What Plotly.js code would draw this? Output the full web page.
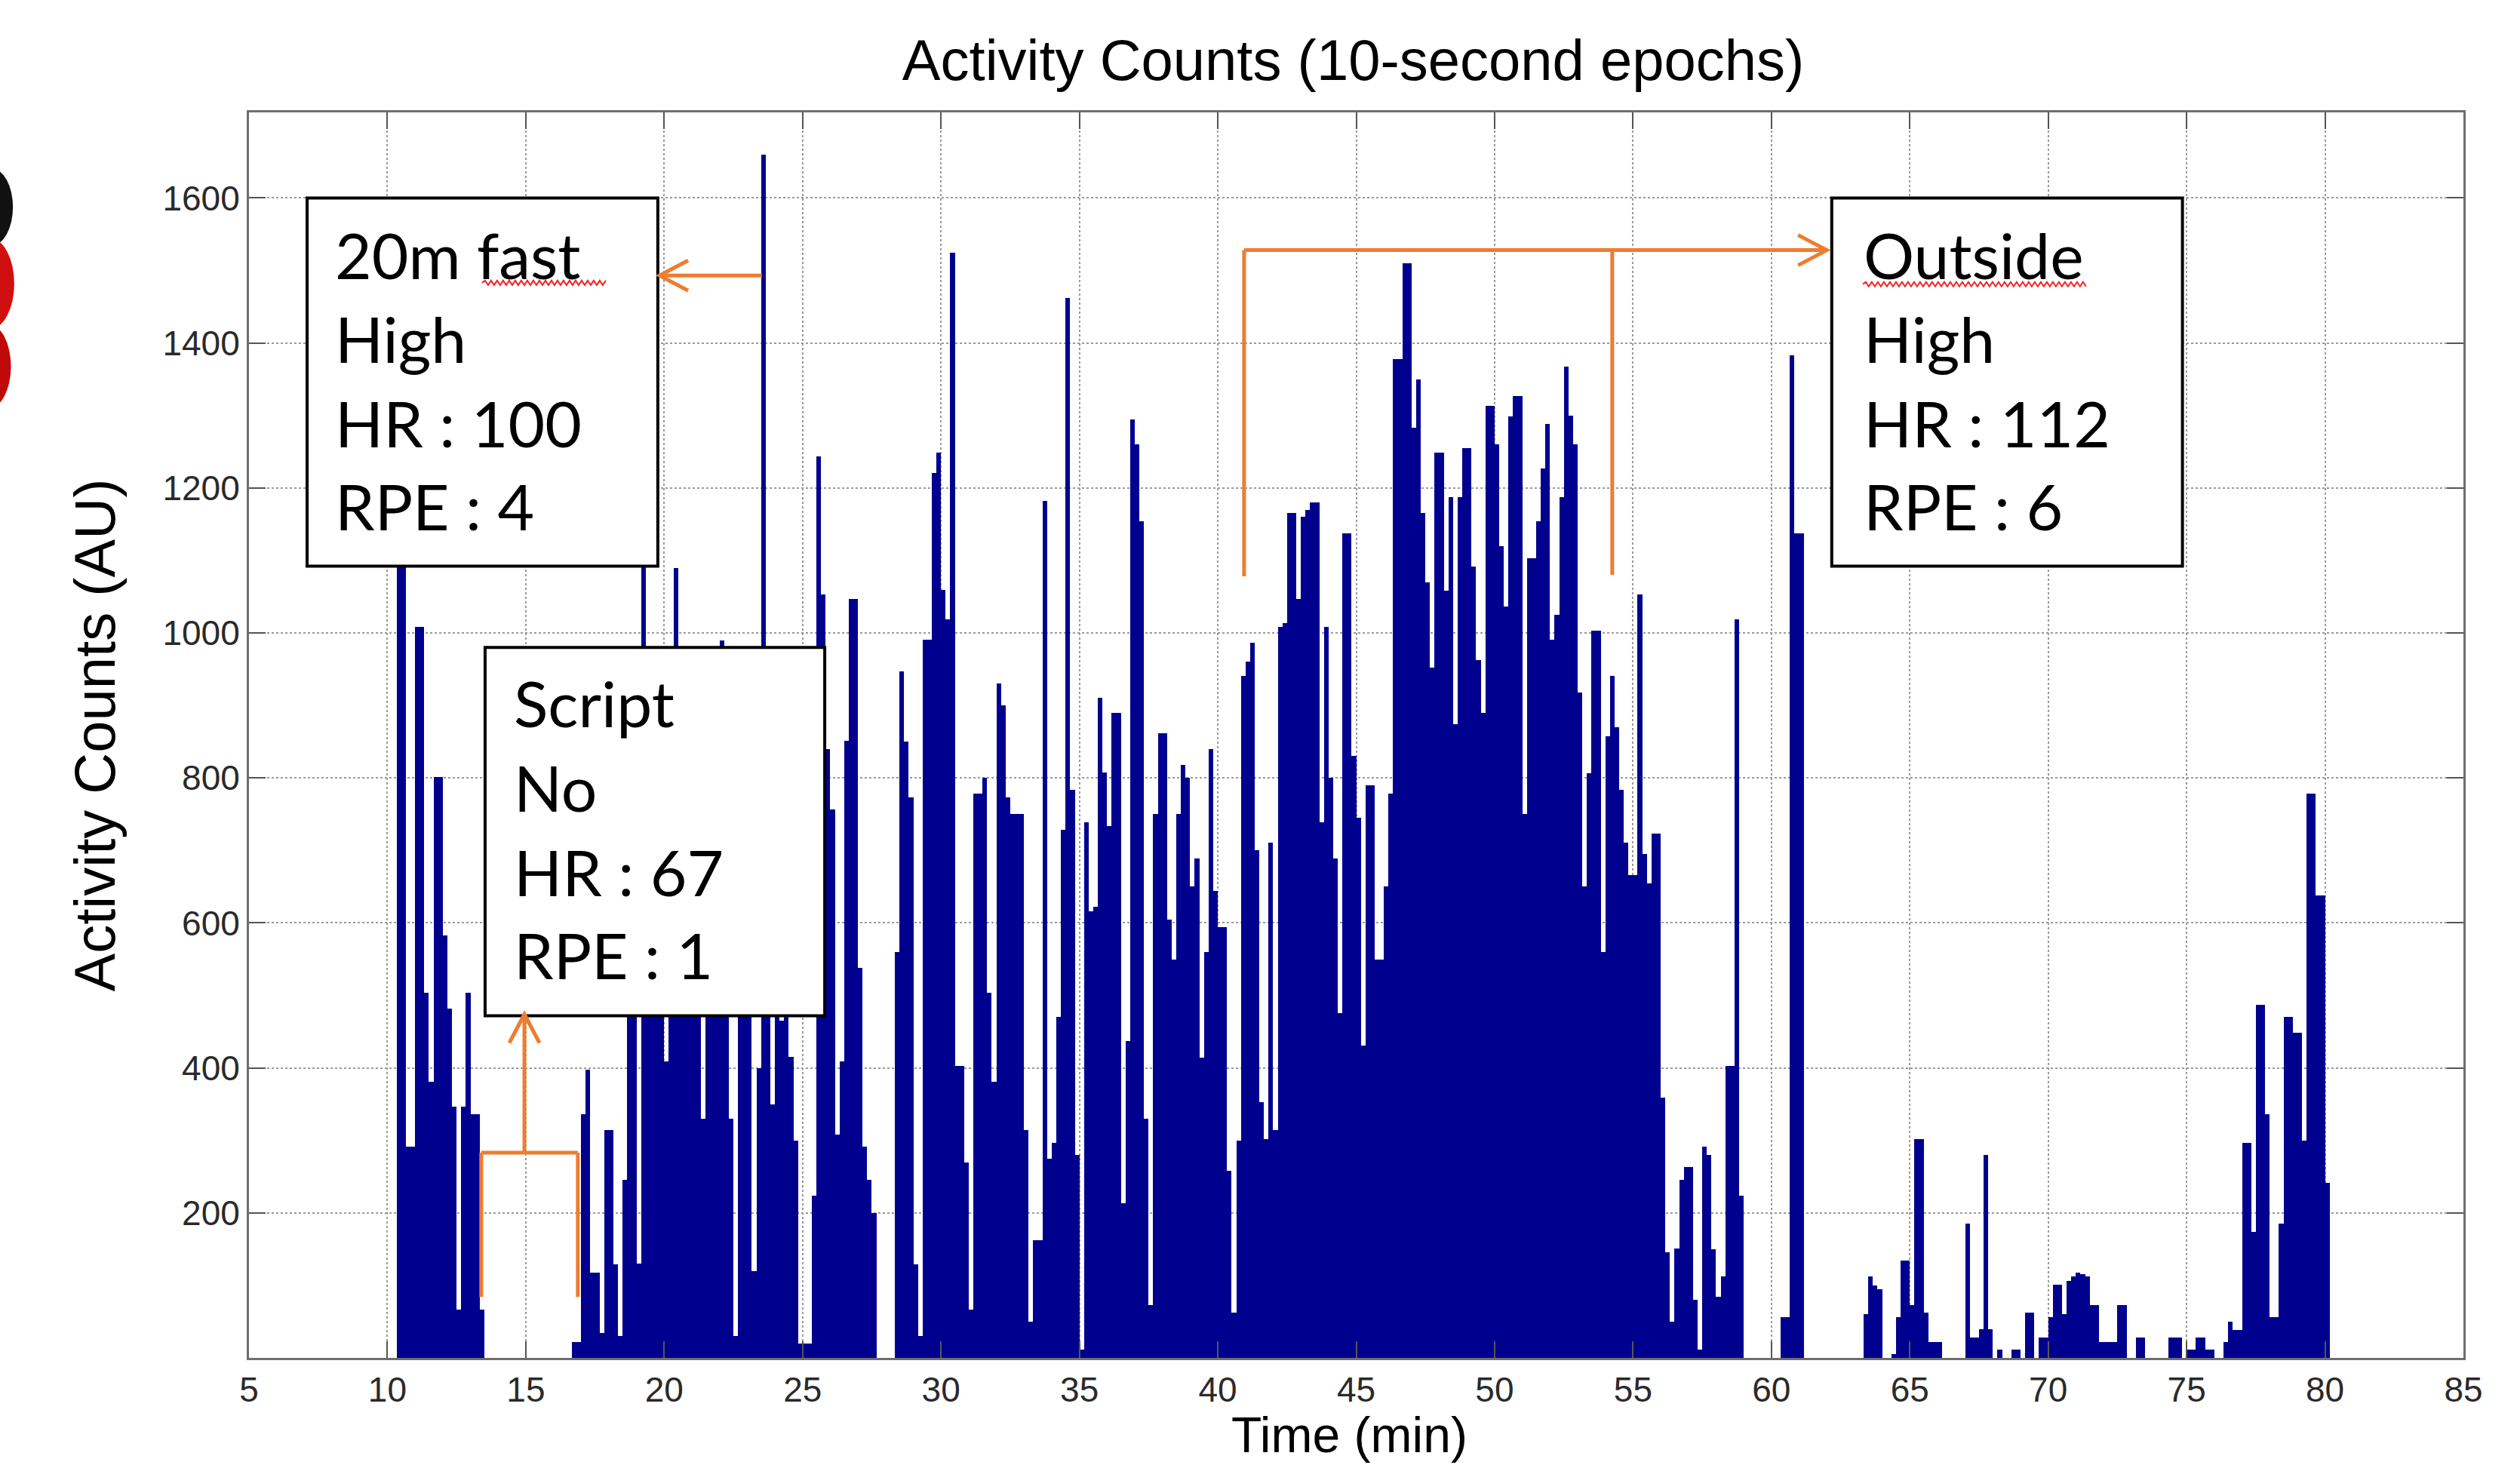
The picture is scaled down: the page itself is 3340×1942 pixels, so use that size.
<!DOCTYPE html>
<html>
<head>
<meta charset="utf-8">
<script src="https://cdn.plot.ly/plotly-3.0.1.min.js"></script>
<style>html,body{margin:0;padding:0;background:#fff;}#chart{width:3340px;height:1942px;}</style>
</head>
<body>
<div id="chart"></div>
<script>
// ---- Data: activity counts per 10-second epoch, starting at minute 10 ----
const epochStartMin = 10;
const epochLenMin = 10 / 60;

const counts_10_20 = [0, 0, 1250, 1250, 291, 291, 1008, 1008, 504, 381,
  801, 801, 583, 482, 347, 67, 347, 504, 336, 336,
  67, 0, 0, 0, 0, 0, 0, 0, 0, 0,
  0, 0, 0, 0, 0, 0, 0, 0, 0, 0,
  22, 22, 336, 398, 118, 118, 34, 314, 314, 129,
  30, 246, 600, 650, 130, 1100, 700, 650, 600, 600];

const counts_20_30 = [409, 700, 1090, 800, 650, 600, 750, 560, 330, 620,
  620, 700, 990, 620, 330, 30, 650, 720, 560, 120,
  400, 1660, 700, 350, 600, 465, 540, 415, 300, 20,
  20, 20, 224, 1243, 1053, 840, 756, 308, 409, 851,
  1047, 1047, 538, 291, 246, 200, 0, 0, 0, 0,
  560, 947, 850, 773, 129, 30, 991, 991, 1221, 1249];

const counts_30_40 = [1059, 1019, 1524, 403, 403, 269, 67, 778, 778, 800,
  504, 381, 930, 900, 773, 750, 750, 750, 314, 50,
  162, 162, 1182, 275, 297, 470, 728, 1462, 784, 280,
  11, 739, 616, 622, 910, 807, 734, 890, 890, 213,
  437, 1294, 1260, 1154, 330, 73, 750, 862, 862, 605,
  549, 750, 818, 800, 650, 689, 414, 560, 840, 644];

const counts_40_50 = [594, 594, 258, 62, 300, 941, 960, 986, 700, 353,
  302, 711, 314, 1008, 1014, 1165, 1165, 1047, 1160, 1170,
  1180, 1180, 739, 1008, 800, 689, 476, 1137, 1137, 830,
  745, 431, 790, 790, 549, 549, 650, 778, 1378, 1378,
  1510, 1510, 1283, 1350, 1165, 1070, 952, 1249, 1249, 1058,
  1187, 874, 1187, 1255, 1255, 1092, 963, 890, 1313, 1313];

const counts_50_60 = [1260, 1120, 1036, 1299, 1327, 1327, 750, 1103, 1103, 1154,
  1227, 1288, 991, 1025, 1187, 1367, 1300, 1260, 918, 650,
  806, 1003, 1003, 560, 857, 941, 870, 784, 711, 666,
  666, 1053, 695, 655, 723, 723, 359, 146, 50, 151,
  246, 263, 263, 80, 11, 291, 280, 150, 84, 112,
  403, 403, 1019, 224, 0, 0, 0, 0, 0, 0];

const counts_60_70 = [0, 0, 56, 56, 1383, 1137, 1137, 0, 0, 0,
  0, 0, 0, 0, 0, 0, 0, 0, 0, 0,
  60, 112, 100, 95, 0, 0, 5, 56, 134, 134,
  73, 302, 302, 62, 22, 22, 22, 0, 0, 0,
  0, 0, 185, 28, 28, 40, 280, 40, 0, 11,
  0, 0, 11, 11, 0, 62, 62, 0, 28, 28];

const counts_70_80 = [56, 101, 101, 60, 106, 112, 118, 115, 112, 73,
  73, 22, 22, 22, 22, 73, 73, 0, 0, 28,
  28, 0, 0, 0, 0, 0, 28, 28, 28, 0,
  11, 11, 28, 28, 11, 11, 0, 0, 22, 50,
  39, 39, 297, 297, 174, 487, 487, 336, 56, 56,
  185, 470, 470, 448, 448, 300, 778, 778, 638, 638,
  241];

const xTickVals = [5, 10, 15, 20, 25, 30, 35, 40, 45, 50, 55, 60, 65, 70, 75, 80, 85];
const yTickVals = [200, 400, 600, 800, 1000, 1200, 1400, 1600];

const boxLines_fast = ["20m fast", "High", "HR : 100", "RPE : 4"];
const boxLines_script = ["Script", "No", "HR : 67", "RPE : 1"];
const boxLines_outside = ["Outside", "High", "HR : 112", "RPE : 6"];

const xTitleText = 'Time (min)';

// ---- Build ----
const counts = [].concat(counts_10_20, counts_20_30, counts_30_40, counts_40_50,
  counts_50_60, counts_60_70, counts_70_80);
const timeMin = counts.map((_, i) => epochStartMin + (i + 0.5) * epochLenMin);

const orange = '#ED7D31';
const shapes = [];
const annotations = [];

// annotation boxes (positions in data units)
const boxes = [
  {lines: boxLines_fast, x0: 7.10, x1: 19.77, y0: 1092, y1: 1600, tx: 8.04, ty: [1522, 1406, 1290, 1175]},
  {lines: boxLines_script, x0: 13.53, x1: 25.80, y0: 472, y1: 980, tx: 14.52, ty: [904, 787, 671, 556]},
  {lines: boxLines_outside, x0: 62.18, x1: 74.85, y0: 1092, y1: 1600, tx: 63.28, ty: [1522, 1406, 1290, 1175]}
];
boxes.forEach(b => {
  shapes.push({type: 'rect', xref: 'x', yref: 'y', x0: b.x0, x1: b.x1, y0: b.y0, y1: b.y1,
    fillcolor: '#ffffff', line: {color: '#000000', width: 4}, layer: 'above'});
  b.lines.forEach((t, i) => {
    annotations.push({text: t, x: b.tx, y: b.ty[i], xref: 'x', yref: 'y', showarrow: false,
      xanchor: 'left', yanchor: 'middle', font: {family: 'Lato, "Open Sans", sans-serif', size: 84, color: '#000'}});
  });
});

// x-axis title placed below the tick labels
annotations.push({text: xTitleText, xref: 'paper', yref: 'paper', x: 0.497, y: -0.0618,
  xanchor: 'center', yanchor: 'middle', showarrow: false,
  font: {family: '"Liberation Sans", Arial, sans-serif', size: 66, color: '#000'}});

// orange connector lines
const line = (x0, y0, x1, y1) => shapes.push({type: 'line', xref: 'x', yref: 'y', x0, y0, x1, y1,
  line: {color: orange, width: 5}, layer: 'above'});
// 20m fast arrow
line(23.53, 1493, 19.90, 1493);
// script bracket + arrow
line(13.39, 84, 13.39, 283); line(13.39, 283, 16.88, 283); line(16.88, 283, 16.88, 84);
line(14.95, 283, 14.95, 474);
// outside bracket + arrow
line(40.95, 1078, 40.95, 1528); line(40.95, 1528, 61.95, 1528); line(54.25, 1528, 54.25, 1080);

// open chevron arrowheads (pixel-sized)
const chevron = (xa, ya, path) => shapes.push({type: 'path', xref: 'x', yref: 'y', xsizemode: 'pixel', ysizemode: 'pixel',
  xanchor: xa, yanchor: ya, path, line: {color: orange, width: 5}, layer: 'above'});
chevron(19.83, 1493, 'M 38 20 L 0 0 L 38 -20');
chevron(14.95, 474, 'M -20 -38 L 0 0 L 20 -38');
chevron(62.0, 1528, 'M -38 20 L 0 0 L -38 -20');

// red spell-check squiggles
const squiggle = (xa, ya, w) => {
  let p = 'M 0 0';
  for (let k = 4, s = 1; k <= w; k += 4, s = -s) p += ' L ' + k + ' ' + (s * 3);
  shapes.push({type: 'path', xref: 'x', yref: 'y', xsizemode: 'pixel', ysizemode: 'pixel',
    xanchor: xa, yanchor: ya, path: p, line: {color: '#ff2020', width: 2}, layer: 'above'});
};
squiggle(13.42, 1483, 166);
squiggle(63.30, 1481, 298);

// cropped logo fragment at left edge
shapes.push({type: 'circle', xref: 'paper', yref: 'paper', x0: -0.126, x1: -0.1066, y0: 0.893, y1: 0.955,
  fillcolor: '#111111', line: {width: 0}});
shapes.push({type: 'circle', xref: 'paper', yref: 'paper', x0: -0.128, x1: -0.1060, y0: 0.826, y1: 0.899,
  fillcolor: '#d01010', line: {width: 0}});
shapes.push({type: 'circle', xref: 'paper', yref: 'paper', x0: -0.128, x1: -0.1075, y0: 0.762, y1: 0.830,
  fillcolor: '#c00a0a', line: {width: 0}});

const trace = {
  type: 'bar', x: timeMin, y: counts, width: epochLenMin,
  marker: {color: '#00008f', line: {width: 0}}, hoverinfo: 'skip'
};

const axisCommon = {
  showline: true, linecolor: '#6e6e6e', linewidth: 3, mirror: 'ticks',
  ticks: 'inside', ticklen: 22, tickwidth: 2, tickcolor: '#555',
  showgrid: true, gridcolor: '#9a9a9a', gridwidth: 2, griddash: 'dot',
  zeroline: false,
  tickfont: {family: '"Liberation Sans", Arial, sans-serif', size: 46, color: '#2a2a2a'}
};

const layout = {
  width: 3340, height: 1942, autosize: false,
  margin: {l: 330, r: 75, t: 149, b: 142, pad: 0},
  paper_bgcolor: '#ffffff', plot_bgcolor: '#ffffff',
  bargap: 0, showlegend: false,
  title: {text: 'Activity Counts (10-second epochs)', x: 0.537, xanchor: 'center', y: 0.959, yanchor: 'middle',
    font: {family: '"Liberation Sans", Arial, sans-serif', size: 76, color: '#000'}},
  xaxis: Object.assign({}, axisCommon, {range: [5, 85], tickvals: xTickVals, ticktext: xTickVals.map(String),
    title: {text: ''}}),
  yaxis: Object.assign({}, axisCommon, {range: [0, 1718], tickvals: yTickVals, ticktext: yTickVals.map(String),
    title: {text: 'Activity Counts (AU)', standoff: 38, font: {family: '"Liberation Sans", Arial, sans-serif', size: 76, color: '#000'}}}),
  shapes, annotations
};

Plotly.newPlot('chart', [trace], layout, {staticPlot: true, displayModeBar: false});
</script>
</body>
</html>
